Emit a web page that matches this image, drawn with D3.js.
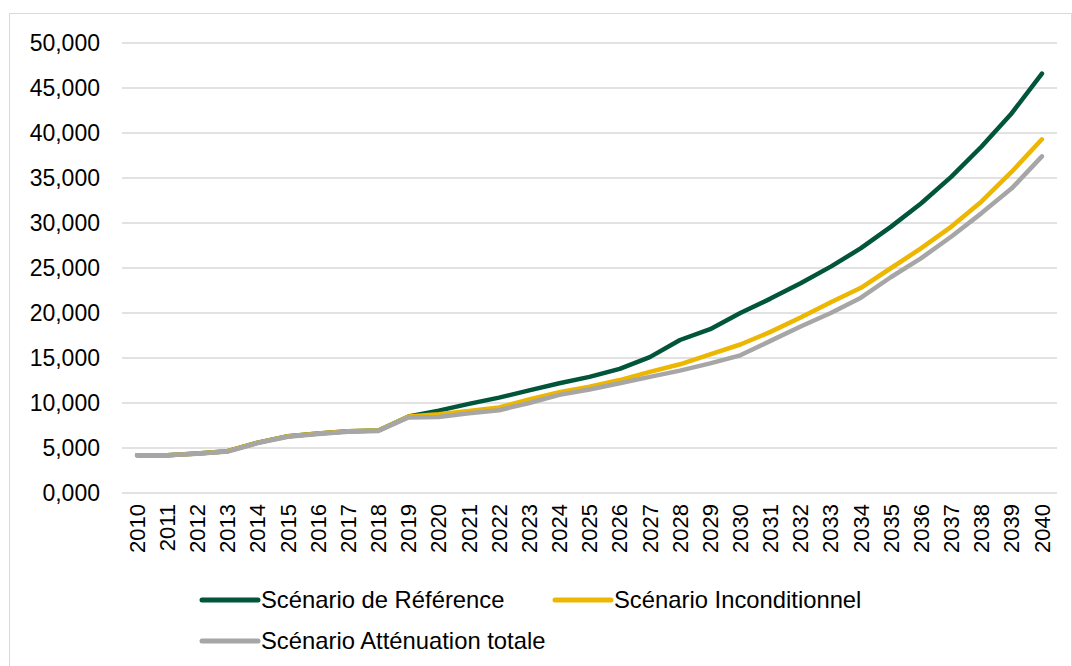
<!DOCTYPE html>
<html>
<head>
<meta charset="utf-8">
<script src="https://cdn.jsdelivr.net/npm/d3@7"></script>
<style>
  body { margin: 0; background: #fff; }
  text { font-family: "Liberation Sans", Arial, sans-serif; fill: #000; }
</style>
</head>
<body>
<svg id="chart" width="1072" height="666"></svg>
<script>
const years = d3.range(2010, 2041).map(String);

const reference = [4200, 4200, 4400, 4650, 5600, 6300, 6600, 6850, 6950, 8500,
  9150, 9900, 10600, 11400, 12200, 12900, 13800, 15100, 17000, 18200,
  20000, 21600, 23300, 25150, 27200, 29600, 32200, 35150, 38500, 42200, 46600];
const inconditionnel = [4200, 4200, 4400, 4650, 5600, 6300, 6600, 6850, 6950, 8500,
  8750, 9100, 9500, 10400, 11200, 11800, 12550, 13450, 14300, 15400,
  16500, 17900, 19500, 21200, 22800, 25000, 27200, 29600, 32400, 35700, 39300];
const attenuation = [4200, 4200, 4350, 4600, 5550, 6250, 6550, 6800, 6900, 8400,
  8450, 8850, 9200, 10000, 10900, 11500, 12200, 12900, 13600, 14400,
  15300, 16900, 18500, 20000, 21700, 24000, 26100, 28500, 31100, 33850, 37400];

const yTicks = d3.range(0, 50001, 5000);

const seriesNames = ["Scénario de Référence", "Scénario Inconditionnel", "Scénario Atténuation totale"];
const seriesColors = ["#01553b", "#edb600", "#a6a6a6"];
const series = [reference, inconditionnel, attenuation];

const svg = d3.select("#chart"),
  margin = { top: 43, right: 15, bottom: 173, left: 122 },
  width = +svg.attr("width") - margin.left - margin.right,
  height = +svg.attr("height") - margin.top - margin.bottom;

// outer frame
svg.append("rect")
  .attr("x", 9.5).attr("y", 13.5)
  .attr("width", 1062).attr("height", 660)
  .attr("fill", "none")
  .attr("stroke", "#d9d9d9");

const g = svg.append("g")
  .attr("transform", `translate(${margin.left},${margin.top})`);

const x = d3.scaleBand()
  .domain(years)
  .range([0, width]);

const y = d3.scaleLinear()
  .domain([0, 50000])
  .range([height, 0]);

const tickLabel = d => d === 0 ? "0,000" : d3.format(",.0f")(d);

// gridlines
g.append("g")
  .selectAll("line")
  .data(yTicks)
  .join("line")
  .attr("x1", 0).attr("x2", width)
  .attr("y1", d => y(d)).attr("y2", d => y(d))
  .attr("stroke", "#d9d9d9")
  .attr("stroke-width", 1.5);

// y axis labels
g.append("g")
  .selectAll("text")
  .data(yTicks)
  .join("text")
  .attr("x", -22)
  .attr("y", d => y(d))
  .attr("dy", "0.35em")
  .attr("text-anchor", "end")
  .style("font-size", "23px")
  .text(tickLabel);

// x axis labels (rotated)
g.append("g")
  .selectAll("text")
  .data(years)
  .join("text")
  .attr("transform", d => `translate(${x(d) + x.bandwidth() / 2},${height + 11}) rotate(-90)`)
  .attr("dy", "0.35em")
  .attr("text-anchor", "end")
  .style("font-size", "22px")
  .text(d => d);

const line = d3.line()
  .x((d, i) => x(years[i]) + x.bandwidth() / 2)
  .y(d => y(d));

g.append("g")
  .selectAll("path")
  .data(series)
  .join("path")
  .attr("d", line)
  .attr("fill", "none")
  .attr("stroke", (d, i) => seriesColors[i])
  .attr("stroke-width", 4.5)
  .attr("stroke-linecap", "round")
  .attr("stroke-linejoin", "round");

// legend
const legendPos = [[202, 600], [555, 600], [202, 641]];
const legend = svg.append("g")
  .selectAll("g")
  .data(seriesNames)
  .join("g")
  .attr("transform", (d, i) => `translate(${legendPos[i][0]},${legendPos[i][1]})`);

legend.append("line")
  .attr("x1", 0).attr("x2", 56)
  .attr("stroke", (d, i) => seriesColors[i])
  .attr("stroke-width", 5)
  .attr("stroke-linecap", "round");

legend.append("text")
  .attr("x", 59)
  .attr("dy", "0.35em")
  .style("font-size", "23.8px")
  .text(d => d);
</script>
</body>
</html>
